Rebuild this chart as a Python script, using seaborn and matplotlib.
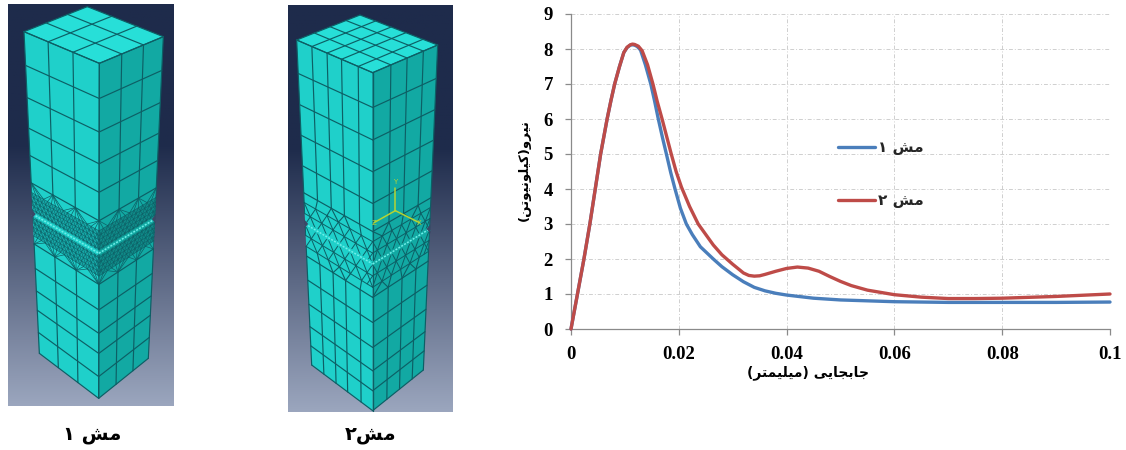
#!/usr/bin/python3
import numpy as np
import matplotlib.pyplot as plt
import pandas as pd
import seaborn as sns

# Curve values
disp_1 = [0, 0.0012, 0.0024, 0.0035, 0.0045, 0.0055, 0.0067, 0.0074, 0.0081, 0.009, 0.0098, 0.0104, 0.0110, 0.0114,
          0.0118, 0.0123, 0.0129, 0.0138, 0.0148, 0.0155, 0.0162, 0.0170, 0.0177, 0.0185, 0.0193, 0.0203, 0.0214, 0.0225, 0.024,
          0.0264, 0.028, 0.030, 0.032, 0.034, 0.036, 0.038, 0.040, 0.045, 0.050, 0.060, 0.070, 0.080, 0.090, 0.100]
force_1 = [0, 1, 2, 3, 4, 5, 6, 6.52, 7, 7.5, 7.9, 8.04, 8.11, 8.12,
           8.11, 8.07, 7.97, 7.55, 7, 6.52, 6, 5.45, 5, 4.47, 4, 3.45, 3, 2.7, 2.35,
           2.0, 1.78, 1.55, 1.35, 1.19, 1.09, 1.02, 0.97, 0.88, 0.83, 0.78, 0.76, 0.76, 0.76, 0.77]

disp_2 = [0, 0.0012, 0.0024, 0.0035, 0.0045, 0.0055, 0.0067, 0.0074, 0.0081, 0.009, 0.0098, 0.0104, 0.0110, 0.0114,
          0.0118, 0.0125, 0.0132, 0.0142, 0.0152, 0.016, 0.0169, 0.0178, 0.0186, 0.0195, 0.0205, 0.022, 0.0236, 0.025, 0.0264,
          0.028, 0.030, 0.032, 0.033, 0.034, 0.035, 0.036, 0.038, 0.040, 0.042, 0.044, 0.046, 0.048, 0.050, 0.052, 0.055, 0.060,
          0.065, 0.070, 0.075, 0.080, 0.090, 0.100]
force_2 = [0, 1, 2, 3, 4, 5, 6, 6.52, 7, 7.5, 7.9, 8.05, 8.12, 8.14,
           8.13, 8.08, 7.95, 7.55, 7, 6.5, 6, 5.47, 5, 4.5, 4.05, 3.5, 3.0, 2.7, 2.4,
           2.12, 1.85, 1.6, 1.53, 1.51, 1.52, 1.56, 1.65, 1.73, 1.77, 1.74, 1.65, 1.5, 1.36, 1.24, 1.11, 0.98,
           0.91, 0.87, 0.87, 0.88, 0.93, 1.0]

series_names = ['مش ۱', 'مش ۲']
series_colors = ['#4a7ebb', '#be4b48']
x_ticks = [0, 0.02, 0.04, 0.06, 0.08, 0.1]
x_tick_labels = ['0', '0.02', '0.04', '0.06', '0.08', '0.1']
y_ticks = [0, 1, 2, 3, 4, 5, 6, 7, 8, 9]
x_title = 'جابجایی (میلیمتر)'
y_title = 'نیرو(کیلونیوتن)'
panel_titles = ['مش ۱', 'مش۲']

# matplotlib does not shape arabic script, so pick the joined forms by hand
# letter: isolated, final, initial, medial
FORMS = {
    'ا': '\uFE8D\uFE8E', 'ر': '\uFEAD\uFEAE', 'و': '\uFEED\uFEEE',
    'ب': '\uFE8F\uFE90\uFE91\uFE92', 'ت': '\uFE95\uFE96\uFE97\uFE98',
    'ج': '\uFE9D\uFE9E\uFE9F\uFEA0', 'ش': '\uFEB5\uFEB6\uFEB7\uFEB8',
    'ک': '\uFB8E\uFB8F\uFB90\uFB91', 'ل': '\uFEDD\uFEDE\uFEDF\uFEE0',
    'م': '\uFEE1\uFEE2\uFEE3\uFEE4', 'ن': '\uFEE5\uFEE6\uFEE7\uFEE8',
    'ی': '\uFBFC\uFBFD\uFBFE\uFBFF',
}
MIRROR = {'(': ')', ')': '('}


def shape(text):
    out = []
    for i, c in enumerate(text):
        if c not in FORMS:
            out.append(MIRROR.get(c, c))
            continue
        prev = text[i - 1] if i > 0 else ''
        nxt = text[i + 1] if i + 1 < len(text) else ''
        join_prev = prev in FORMS and len(FORMS[prev]) == 4
        join_next = nxt in FORMS and len(FORMS[c]) == 4
        idx = 3 if join_prev and join_next else 1 if join_prev else 2 if join_next else 0
        out.append(FORMS[c][idx])
    return ''.join(reversed(out))


def pt(corners, u, v):
    a, b, c, d = [np.array(p, dtype=float) for p in corners]
    return (1 - u) * (1 - v) * a + u * (1 - v) * b + u * v * c + (1 - u) * v * d


LINE = '#0d5f65'


def seg(ax, corners, p, q, lw=0.85):
    p1 = pt(corners, *p)
    p2 = pt(corners, *q)
    ax.plot([p1[0], p2[0]], [p1[1], p2[1]], color=LINE, lw=lw, solid_capstyle='round', zorder=4)


def draw_face(ax, corners, color, cols, rows_top, rows_bot, nu, nv, band, notch, dense_color):
    ax.fill(*zip(*corners), color=color, lw=0, zorder=3)
    for v in rows_top + rows_bot:
        seg(ax, corners, (0, v), (1, v))
    for u in cols:
        seg(ax, corners, (u, 0), (u, rows_top[-1]))
        seg(ax, corners, (u, rows_bot[0]), (u, 1))
    # free mesh around the notch, staggered triangles
    du = 1.0 / nu
    vs = np.linspace(band[0], band[1], nv + 1)
    lw = 0.4 if nu > 10 else 0.7
    if dense_color:
        quad = [pt(corners, 0, band[0]), pt(corners, 1, band[0]), pt(corners, 1, band[1]), pt(corners, 0, band[1])]
        ax.fill(*zip(*quad), color=dense_color, lw=0, zorder=3)
    for j in range(nv + 1):
        seg(ax, corners, (0, vs[j]), (1, vs[j]), lw)
        if j == nv:
            break
        off = 0.5 * du if j % 2 else 0.0
        for i in range(nu + 1):
            u = min(i * du + off, 1)
            seg(ax, corners, (u, vs[j]), (min(max(u - 0.5 * du, 0), 1), vs[j + 1]), lw)
            seg(ax, corners, (u, vs[j]), (min(u + 0.5 * du, 1), vs[j + 1]), lw)
    # fans from the coarse nodes to the free mesh
    fan = np.linspace(0, 1, nu + 1)
    for k, u in enumerate(cols):
        reach = 0.6 * max(cols[min(k + 1, len(cols) - 1)] - u, u - cols[max(k - 1, 0)])
        for x in fan[np.abs(fan - u) <= reach]:
            seg(ax, corners, (u, rows_top[-1]), (x, band[0]), lw + 0.1)
            seg(ax, corners, (u, rows_bot[0]), (x, band[1]), lw + 0.1)
    # notch strip
    p1 = pt(corners, 0, notch)
    p2 = pt(corners, 1, notch)
    ax.plot([p1[0], p2[0]], [p1[1], p2[1]], color=color, lw=3.0, zorder=5, solid_capstyle='butt')
    ax.plot([p1[0], p2[0]], [p1[1], p2[1]], color='#6feee8', lw=1.1, ls=(0, (1.3, 0.9)), zorder=5)


def draw_block(ax, rect, top_l, top_f, top_r, top_b, bot_l, bot_f, bot_r, cols_l, cols_r, rows_top, rows_bot,
               nu_l, nu_r, nv, band, notch, dense):
    x0, y0, x1, y1 = rect
    grad = np.linspace(0, 1, 256)
    grad = np.clip((grad - 0.35) / 0.65, 0, 1).reshape(-1, 1, 1)
    c1 = np.array([0x1e, 0x2b, 0x4b]) / 255
    c2 = np.array([0x9b, 0xa6, 0xbe]) / 255
    ax.imshow(c1 + (c2 - c1) * grad, extent=(x0, x1, y1, y0), aspect='auto', zorder=1)
    draw_face(ax, [top_l, top_f, bot_f, bot_l], '#1fd0ca', cols_l, rows_top, rows_bot, nu_l, nv, band, notch, dense[0])
    draw_face(ax, [top_f, top_r, bot_r, bot_f], '#12a9a3', cols_r, rows_top, rows_bot, nu_r, nv, band, notch, dense[1])
    top = [top_l, top_f, top_r, top_b]
    ax.fill(*zip(*top), color='#27dfd8', lw=0, zorder=3)
    for u in cols_l:
        seg(ax, top, (u, 0), (u, 1))
    for v in cols_r:
        seg(ax, top, (0, v), (1, v))
    # small bites at the two outer edges where the notch is
    side_l = [top_l, top_f, bot_f, bot_l]
    side_r = [top_f, top_r, bot_r, bot_f]
    for corners, u, sign in [(side_l, 0, 1), (side_r, 1, -1)]:
        p = pt(corners, u, notch)
        ax.fill([p[0] - sign * 3, p[0] + sign * 9, p[0] - sign * 3], [p[1] - 14, p[1], p[1] + 14], color='#3b4866', lw=0, zorder=6)


sns.set_theme(style='white')
fig = plt.figure(figsize=(11.26, 4.5), dpi=100)

# left part in zoomed picture units (3x)
bg = fig.add_axes([0, 0, 1, 1])
draw_block(bg, (24, 12, 522, 1218), (72, 95), (298, 190), (490, 110), (262, 20), (118, 1060), (296, 1195), (445, 1075),
           [0, 0.32, 0.65, 1], [0, 0.35, 0.69, 1],
           [0, 0.105, 0.205, 0.3, 0.385, 0.47], [0.66, 0.736, 0.806, 0.866, 0.935, 1],
           17, 13, 10, (0.50, 0.635), 0.567, ('#17a9a8', '#108a88'))
draw_block(bg, (864, 16, 1359, 1236), (890, 120), (1118, 218), (1313, 135), (1080, 45), (935, 1095), (1118, 1232), (1270, 1110),
           [0, 0.2, 0.4, 0.59, 0.81, 1], [0, 0.28, 0.53, 0.78, 1],
           [0, 0.103, 0.199, 0.293, 0.387, 0.47], [0.665, 0.739, 0.813, 0.882, 0.941, 1],
           6, 6, 4, (0.50, 0.635), 0.566, (None, None))

# little axis triad on mesh 2
for tip, name in [((1186, 565), 'Y'), ((1122, 668), 'Z'), ((1258, 668), 'X')]:
    bg.plot([1186, tip[0]], [632, tip[1]], color='#b5d334', lw=1.1, zorder=7)
    bg.text(tip[0], tip[1] - 20 if name == 'Y' else tip[1], name, color='#b5d334', fontsize=5, ha='center', va='center', zorder=7)

bg.set_xlim(0, 3378)
bg.set_ylim(1350, 0)
bg.axis('off')

bg.text(276, 1305, shape(panel_titles[0]), fontsize=14, fontweight='bold', family='DejaVu Sans', color='black', ha='center', va='center')
bg.text(1112, 1305, shape(panel_titles[1]), fontsize=14, fontweight='bold', family='DejaVu Sans', color='black', ha='center', va='center')

# the chart
df = pd.concat([
    pd.DataFrame({'disp': disp_1, 'force': force_1, 'mesh': shape(series_names[0])}),
    pd.DataFrame({'disp': disp_2, 'force': force_2, 'mesh': shape(series_names[1])}),
])
ax = fig.add_axes([571 / 1126, (450 - 329) / 450, 539 / 1126, 315 / 450])
ax.patch.set_alpha(0)
sns.lineplot(data=df, x='disp', y='force', hue='mesh', palette=series_colors, linewidth=2.4, ax=ax, estimator=None, sort=False, clip_on=False, zorder=3)

ax.set_xlim(0, 0.1)
ax.set_ylim(0, 9)
ax.set_xticks(x_ticks)
ax.set_xticklabels(x_tick_labels)
ax.set_yticks(y_ticks)
ax.grid(True, color='#cfcfcf', lw=0.7, ls=(0, (4, 2, 1, 2)))
for s in ['top', 'right']:
    ax.spines[s].set_visible(False)
for s in ['left', 'bottom']:
    ax.spines[s].set_color('#8a8a8a')
    ax.spines[s].set_linewidth(0.9)
ax.tick_params(axis='x', length=4, width=0.9, color='#8a8a8a', direction='out', bottom=True, pad=8)
ax.tick_params(axis='y', length=4, width=0.9, color='#8a8a8a', direction='out', left=True, pad=9)
for lab in ax.get_xticklabels() + ax.get_yticklabels():
    lab.set_fontfamily('Liberation Serif')
    lab.set_fontweight('bold')
    lab.set_fontsize(13.5)
    lab.set_color('black')

ax.set_xlabel(shape(x_title), fontsize=10, fontweight='bold', family='DejaVu Sans', color='black')
ax.xaxis.set_label_coords(0.44, -0.115)
ax.set_ylabel(shape(y_title), fontsize=9.5, fontweight='bold', family='DejaVu Sans', color='black')
ax.yaxis.set_label_coords(-0.074, 0.505)

leg = ax.legend(loc='upper left', bbox_to_anchor=(0.47, 0.643), frameon=False, handlelength=2.4, handletextpad=0.2,
                labelspacing=2.5, prop={'family': 'DejaVu Sans', 'weight': 'bold', 'size': 11}, title=None)

plt.savefig('out.png', dpi=100)
